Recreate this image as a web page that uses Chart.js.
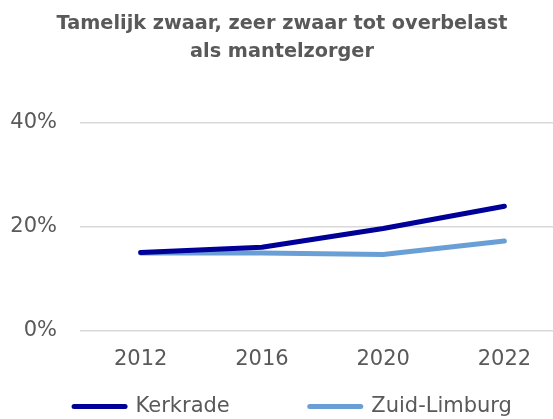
<!DOCTYPE html>
<html>
<head>
<meta charset="utf-8">
<script src="https://cdn.jsdelivr.net/npm/chart.js@4.4.1/dist/chart.umd.min.js"></script>
<style>
html,body{margin:0;padding:0;background:#fff;overflow:hidden;}
#wrap{width:553px;height:419px;overflow:hidden;position:relative;}
canvas{display:block;}
</style>
</head>
<body>
<div id="wrap"><canvas id="c" width="640" height="487"></canvas></div>
<script>
const categories = ['2012', '2016', '2020', '2022'];
const kerkrade = [15.1, 16.1, 19.7, 24.0];
const zuidLimburg = [15.0, 15.0, 14.7, 17.3];
const seriesNames = ['Kerkrade', 'Zuid-Limburg'];
const titleLines = ['Tamelijk zwaar, zeer zwaar tot overbelast', 'als mantelzorger'];
const yTicks = [0, 20, 40];

const textColor = '#595959';
const fontFamily = '"DejaVu Sans", sans-serif';

// Re-centres the built-in title and legend boxes after layout.
const boxPlace = {
  id: 'boxPlace',
  afterLayout(chart) {
    const lg = chart.legend;
    if (lg) {
      const dy = lg.top - 316;
      const dx = 293 - (lg.left + lg.right) / 2;
      lg.top -= dy; lg.bottom -= dy;
      lg.left += dx; lg.right += dx;
    }
    const tb = chart.titleBlock;
    if (tb) {
      const dx = 282 - (tb.left + tb.right) / 2;
      tb.left += dx; tb.right += dx;
    }
  }
};

new Chart(document.getElementById('c'), {
  type: 'line',
  data: {
    labels: categories,
    datasets: [
      { label: seriesNames[0], data: kerkrade, borderColor: '#000099', backgroundColor: '#000099',
        borderWidth: 5, pointRadius: 0, borderCapStyle: 'round', borderJoinStyle: 'round', tension: 0 },
      { label: seriesNames[1], data: zuidLimburg, borderColor: '#6a9fd6', backgroundColor: '#6a9fd6',
        borderWidth: 5, pointRadius: 0, borderCapStyle: 'round', borderJoinStyle: 'round', tension: 0 }
    ]
  },
  plugins: [boxPlace],
  options: {
    responsive: false,
    devicePixelRatio: 1,
    animation: false,
    layout: { padding: 0 },
    plugins: {
      title: {
        display: true,
        text: titleLines,
        color: textColor,
        font: { family: fontFamily, size: 19.3, weight: 'bold', lineHeight: 1.45 },
        padding: { top: 10, bottom: 57 }
      },
      legend: {
        position: 'bottom',
        labels: {
          color: textColor,
          font: { family: fontFamily, size: 21 },
          usePointStyle: true,
          pointStyleWidth: 51,
          padding: 80,
          generateLabels(chart) {
            return chart.data.datasets.map((ds, i) => ({
              text: ds.label,
              fillStyle: ds.borderColor,
              strokeStyle: ds.borderColor,
              lineWidth: 5,
              lineCap: 'round',
              pointStyle: 'line',
              fontColor: textColor,
              hidden: false,
              datasetIndex: i
            }));
          }
        }
      },
      tooltip: { enabled: false }
    },
    scales: {
      x: {
        offset: true,
        afterFit(scale) { scale.height = 45; },
        grid: { display: false, drawTicks: false },
        border: { display: false },
        ticks: { color: textColor, font: { family: fontFamily, size: 21 }, padding: 16, maxRotation: 0 }
      },
      y: {
        min: 0,
        max: 40,
        afterFit(scale) { scale.width = 80; },
        afterBuildTicks(scale) { scale.ticks = yTicks.map(v => ({ value: v })); },
        grid: { color: '#d9d9d9', lineWidth: 1.5, drawTicks: false },
        border: { display: false },
        ticks: { color: textColor, font: { family: fontFamily, size: 21 }, padding: 23,
                 callback: v => v + '%' }
      },
      yRight: {
        position: 'right',
        display: true,
        afterFit(scale) { scale.width = 75; },
        grid: { display: false, drawTicks: false },
        border: { display: false },
        ticks: { display: false }
      }
    }
  }
});
</script>
</body>
</html>
